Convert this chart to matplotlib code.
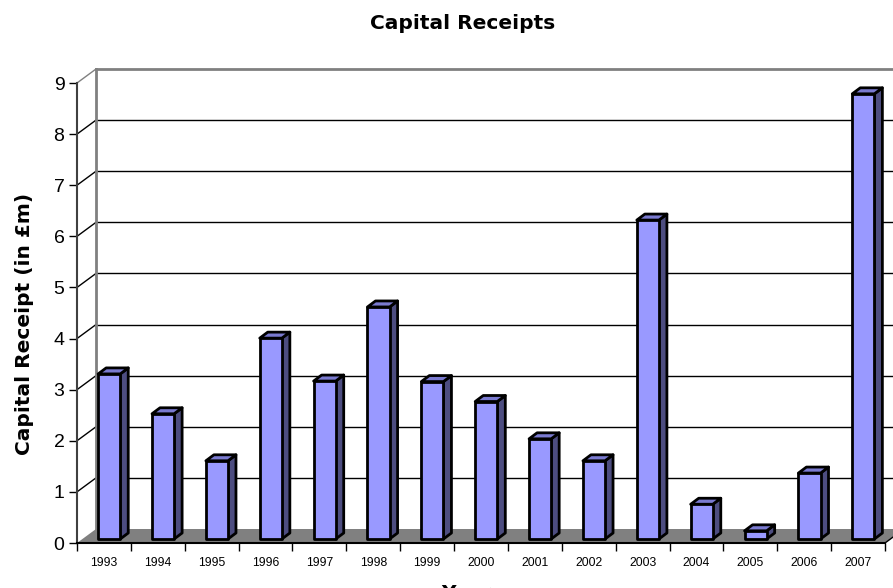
import numpy as np
import matplotlib
matplotlib.use("Agg")
import matplotlib.pyplot as plt
from matplotlib.patches import Polygon

plt.rcParams['font.family'] = ['Liberation Sans', 'DejaVu Sans']

# data
years = ['1993', '1994', '1995', '1996', '1997', '1998', '1999', '2000',
         '2001', '2002', '2003', '2004', '2005', '2006', '2007']
receipts = [3.23, 2.45, 1.53, 3.93, 3.09, 4.54, 3.08, 2.69,
            1.96, 1.53, 6.24, 0.68, 0.16, 1.29, 8.71]
y_ticks = list(range(0, 10))

W, H = 893, 588
fig = plt.figure(figsize=(W / 100, H / 100), dpi=100)
# front plane of the 3d box, in pixels
left, right, bottom, top = 77, 885, 543, 83
ax = fig.add_axes([left / W, (H - bottom) / H, (right - left) / W, (bottom - top) / H])
n = len(years)
ax.set_xlim(0, n)
ax.set_ylim(0, 9)

# pixel -> data unit conversion
ux = n / (right - left)
uy = 9 / (bottom - top)

# depth of the box, bar offset into the floor, bar depth (pixels)
DX, DY = 19, 14
BX, BY = 5, 4
SX, SY = 8, 6

grey = '#808080'

# floor
floor = Polygon([(0, 0), (n, 0), (n + DX * ux, DY * uy), (DX * ux, DY * uy)],
                closed=True, facecolor=grey, edgecolor='none', zorder=1, clip_on=False)
ax.add_patch(floor)

# back wall and left wall grid lines
for v in y_ticks[1:]:
    c = grey if v == 9 else 'black'
    lw = 2 if v == 9 else 1
    ax.plot([DX * ux, n + DX * ux + 1], [v + DY * uy, v + DY * uy], color=c, lw=lw,
            clip_on=False, zorder=1)
    ax.plot([0, DX * ux], [v, v + DY * uy], color=c, lw=1, clip_on=False, zorder=1)
ax.plot([DX * ux, DX * ux], [DY * uy, 9 + DY * uy], color=grey, lw=2, clip_on=False, zorder=1)
ax.plot([n, n + DX * ux], [0, DY * uy], color='black', lw=1, clip_on=False, zorder=2)

# bars
front_c, side_c, top_c = '#9999FF', '#4D4D80', '#7A7AD0'
bw = 0.41
for i, v in enumerate(receipts):
    x0 = i + 0.30 + BX * ux
    x1 = x0 + bw
    y0 = BY * uy
    y1 = y0 + v
    sx, sy = SX * ux, SY * uy
    side = Polygon([(x1, y0), (x1 + sx, y0 + sy), (x1 + sx, y1 + sy), (x1, y1)],
                   closed=True, facecolor=side_c, edgecolor='black', lw=2, zorder=3,
                   joinstyle='round')
    topf = Polygon([(x0, y1), (x1, y1), (x1 + sx, y1 + sy), (x0 + sx, y1 + sy)],
                   closed=True, facecolor=top_c, edgecolor='black', lw=2, zorder=3,
                   joinstyle='round')
    front = Polygon([(x0, y0), (x1, y0), (x1, y1), (x0, y1)],
                    closed=True, facecolor=front_c, edgecolor='black', lw=2, zorder=4,
                    joinstyle='round')
    ax.add_patch(side)
    ax.add_patch(topf)
    ax.add_patch(front)

# axes
for s in ['top', 'right']:
    ax.spines[s].set_visible(False)
ax.spines['left'].set_color('#404040')
ax.spines['left'].set_linewidth(1.5)
ax.spines['bottom'].set_color('black')
ax.spines['bottom'].set_linewidth(1.5)
ax.spines['left'].set_zorder(5)
ax.spines['bottom'].set_zorder(5)
ax.patch.set_visible(False)

ax.set_yticks(y_ticks)
ax.tick_params(axis='y', direction='out', length=6, width=1, color='black',
               labelsize=14, pad=3)
ax.set_xticks(np.arange(0, n + 1))
ax.set_xticklabels([])
ax.set_xticks(np.arange(n) + 0.5, minor=True)
ax.set_xticklabels(years, minor=True, fontsize=8.7)
ax.tick_params(axis='x', which='major', direction='out', length=6, width=1, color='black')
ax.tick_params(axis='x', which='minor', length=0, pad=10)

# labels (reference font is wider than Arial, DejaVu gets the extents closer)
lab_font = ['DejaVu Sans']
fig.text(463 / W, 1 - 29 / H, 'Capital Receipts', ha='center', va='baseline',
         fontsize=14.5, fontweight='bold', family=lab_font)
fig.text(25 / W, 1 - 324 / H, 'Capital Receipt (in £m)', ha='center', va='center',
         rotation=90, fontsize=14.5, fontweight='bold', family=lab_font)
fig.text(466 / W, 1 - 584 / H, 'Year', ha='center', va='top',
         fontsize=14.5, fontweight='bold', family=lab_font)

fig.savefig('out.png', dpi=100)
